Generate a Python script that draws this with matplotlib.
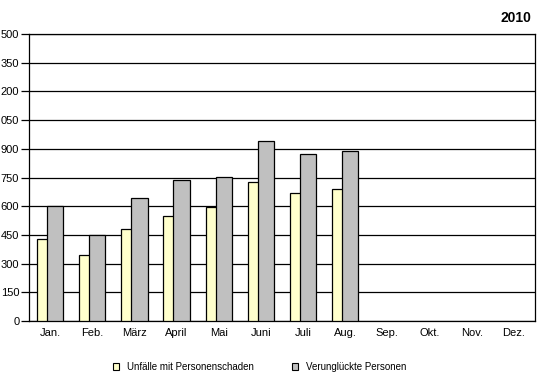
import matplotlib
matplotlib.use("Agg")
import matplotlib.pyplot as plt
import numpy as np
from matplotlib.patches import Patch

plt.rcParams['font.family'] = ['Liberation Sans', 'DejaVu Sans']

months = ["Jan.", "Feb.", "März", "April", "Mai", "Juni", "Juli", "Aug.",
          "Sep.", "Okt.", "Nov.", "Dez."]
unfaelle = [428, 345, 479, 549, 596, 726, 667, 688]
verunglueckte = [601, 449, 643, 737, 753, 941, 871, 887]
yticks = [0, 150, 300, 450, 600, 750, 900, 1050, 1200, 1350, 1500]
ytick_labels = ["0", "150", "300", "450", "600", "750", "900", "050", "200", "350", "500"]
series_names = ["Unfälle mit Personenschaden", "Verunglückte Personen"]
title = "2010"

W, H = 543, 384
fig = plt.figure(figsize=(W / 100, H / 100), dpi=100)
ax = fig.add_axes([29 / W, 1 - 321 / H, (535 - 29) / W, (321 - 34) / H])

x = np.arange(len(months))
bw = 0.39
off = 0.118
ax.bar(x[:len(unfaelle)] - off, unfaelle, width=bw, color="#FFFFCC",
       edgecolor="black", linewidth=0.9, zorder=3)
ax.bar(x[:len(verunglueckte)] + off, verunglueckte, width=bw, color="#C0C0C0",
       edgecolor="black", linewidth=0.9, zorder=4)

ax.set_xlim(-0.5, len(months) - 0.5)
ax.set_ylim(0, 1500)
ax.set_yticks(yticks)
ax.set_yticklabels(ytick_labels)
ax.set_xticks(x)
ax.set_xticklabels(months)
ax.tick_params(axis='y', length=6, width=0.9, pad=1, labelsize=8, direction='out')
ax.tick_params(axis='x', length=0, pad=5, labelsize=8)
ax.yaxis.grid(True, color="black", linewidth=0.9, zorder=0)
ax.set_axisbelow(True)
for s in ax.spines.values():
    s.set_linewidth(0.9)
    s.set_color("black")

fig.text(531 / W, 1 - 18 / H, title, ha="right", va="center",
         fontsize=10, fontweight="bold")

handles = [Patch(facecolor="#FFFFCC", edgecolor="black", linewidth=0.8),
           Patch(facecolor="#C0C0C0", edgecolor="black", linewidth=0.8)]
fig.legend(handles, series_names, loc="center", ncol=2,
           bbox_to_anchor=(0.478, 1 - 367 / H), frameon=False,
           fontsize=7, handlelength=0.6, handleheight=0.6,
           columnspacing=3.9, handletextpad=0.82)

fig.savefig("out.png", dpi=100)
